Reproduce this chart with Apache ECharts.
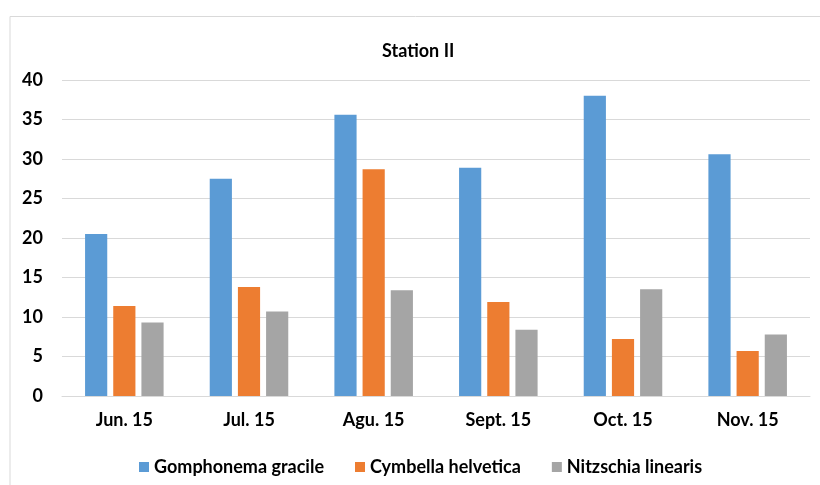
<!DOCTYPE html>
<html><head><meta charset="utf-8">
<script src="https://cdn.jsdelivr.net/npm/echarts@6/dist/echarts.min.js"></script>
<style>html,body{margin:0;padding:0;background:#fff}#c{width:820px;height:485px}</style>
</head><body><div id="c"></div>
<script>
const categories = ["Jun. 15", "Jul. 15", "Agu. 15", "Sept. 15", "Oct. 15", "Nov. 15"];
const gomphonema = [20.5, 27.5, 35.6, 28.9, 38.0, 30.6];
const cymbella = [11.4, 13.8, 28.7, 11.9, 7.2, 5.7];
const nitzschia = [9.3, 10.7, 13.4, 8.4, 13.5, 7.8];
const seriesNames = ["Gomphonema gracile", "Cymbella helvetica", "Nitzschia linearis"];
const colors = ["#5B9BD5", "#ED7D31", "#A5A5A5"];
const FONT = "Lato";
const chart = echarts.init(document.getElementById('c'));
const data = [gomphonema, cymbella, nitzschia];
chart.setOption({
  animation: false,
  backgroundColor: '#fff',
  graphic: [{
    type: 'rect', shape: {x: 10, y: 16.5, width: 830, height: 490},
    style: {fill: 'none', stroke: '#d9d9d9', lineWidth: 1}, silent: true, z: -1
  }],
  title: {
    text: 'Station II', left: 377, top: 37,
    textStyle: {fontFamily: FONT, fontWeight: 'bold', fontSize: 18, color: '#000'}
  },
  legend: {
    data: seriesNames, top: 453, left: 134, itemGap: 31,
    itemWidth: 10, itemHeight: 10, icon: 'rect',
    textStyle: {fontFamily: FONT, fontWeight: 'bold', fontSize: 18, color: '#000'}
  },
  grid: {left: 62, right: 10, top: 80, bottom: 89, containLabel: false},
  xAxis: {
    type: 'category', data: categories,
    axisLine: {lineStyle: {color: '#d9d9d9'}}, axisTick: {show: false},
    axisLabel: {fontFamily: FONT, fontWeight: 'bold', fontSize: 18, color: '#000', margin: 15}
  },
  yAxis: {
    type: 'value', min: 0, max: 40, interval: 5,
    axisLine: {show: false}, axisTick: {show: false},
    splitLine: {lineStyle: {color: '#d9d9d9'}},
    axisLabel: {fontFamily: FONT, fontWeight: 'bold', fontSize: 18, color: '#000', margin: 19}
  },
  series: seriesNames.map((n, i) => ({
    name: n, type: 'bar', data: data[i], itemStyle: {color: colors[i]},
    barGap: '27%', barCategoryGap: '37%'
  }))
});
</script></body></html>
